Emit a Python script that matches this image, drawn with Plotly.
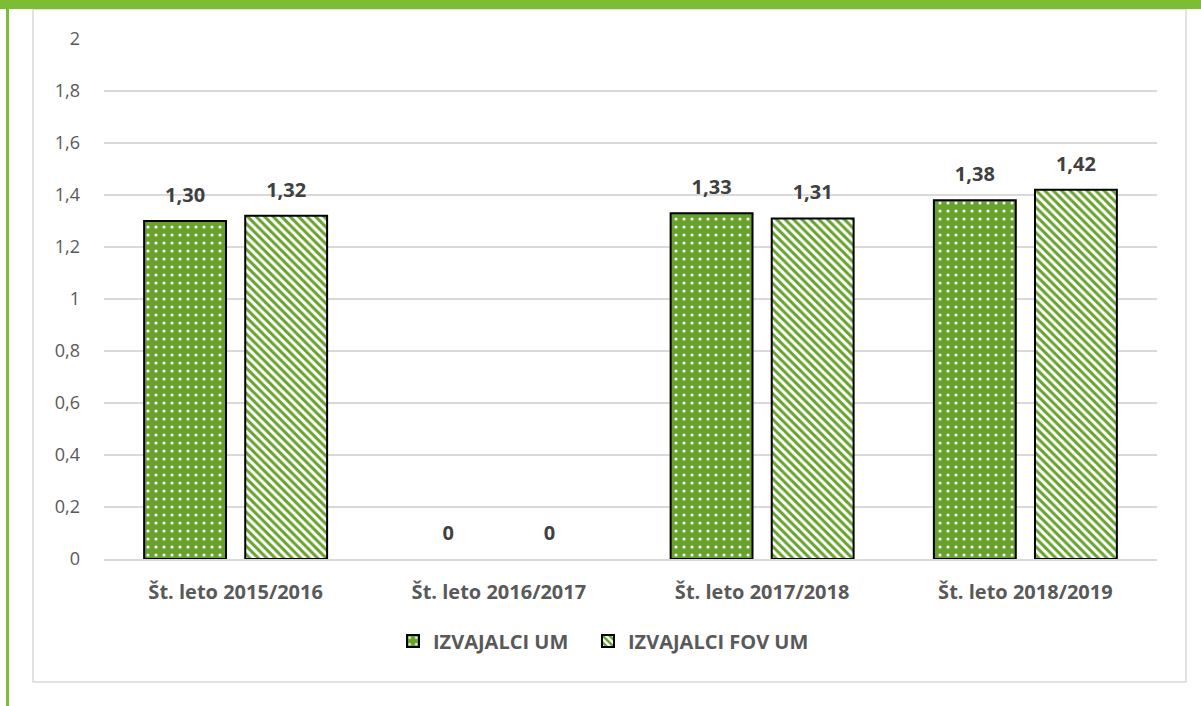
import plotly.graph_objects as go

categories = ["Št. leto 2015/2016", "Št. leto 2016/2017", "Št. leto 2017/2018", "Št. leto 2018/2019"]
izvajalci_um = [1.30, 0, 1.33, 1.38]
izvajalci_fov_um = [1.32, 0, 1.31, 1.42]
labels_um = ["1,30", "0", "1,33", "1,38"]
labels_fov_um = ["1,32", "0", "1,31", "1,42"]
y_ticks = [0, 0.2, 0.4, 0.6, 0.8, 1, 1.2, 1.4, 1.6, 1.8, 2]
y_tick_labels = ["0", "0,2", "0,4", "0,6", "0,8", "1", "1,2", "1,4", "1,6", "1,8", "2"]

GREEN = "#66a22c"
BAND = "#7dbd33"
FONT = "Open Sans"

W, H = 1201, 706
L, R, T, B = 104, 1157, 39, 559


def outline(values):
    return [0 if v == 0 else 2 for v in values]


def label_text(labels):
    return ["<span style='font-size:20px'>" + t + "</span><br> " for t in labels]


fig = go.Figure()
fig.add_trace(go.Bar(
    name="IZVAJALCI UM", x=categories, y=izvajalci_um, legend="legend",
    text=label_text(labels_um), textposition="outside", constraintext="none",
    textfont=dict(family=FONT, size=10, color="#404040", weight="bold"),
    cliponaxis=False,
    marker=dict(color=GREEN, line=dict(color="black", width=outline(izvajalci_um)),
                pattern=dict(shape=".", fgcolor="white", bgcolor=GREEN,
                             size=8, solidity=0.12, fillmode="replace")),
))
fig.add_trace(go.Bar(
    name="IZVAJALCI FOV UM", x=categories, y=izvajalci_fov_um, legend="legend2",
    text=label_text(labels_fov_um), textposition="outside", constraintext="none",
    textfont=dict(family=FONT, size=10, color="#404040", weight="bold"),
    cliponaxis=False,
    marker=dict(color="white", line=dict(color="black", width=outline(izvajalci_fov_um)),
                pattern=dict(shape="\\", fgcolor=GREEN, bgcolor="white",
                             size=6, solidity=0.5, fillmode="replace")),
))


def px(x):
    return (x - L) / (R - L)


def py(y):
    return (B - y) / (B - T)


shapes = [
    dict(type="rect", xref="paper", yref="paper", x0=px(33), x1=px(1186), y0=py(682), y1=py(9),
         line=dict(color="#d9d9d9", width=1.5), fillcolor="rgba(0,0,0,0)", layer="below"),
    dict(type="rect", xref="paper", yref="paper", x0=px(0), x1=px(W), y0=py(9), y1=py(0),
         line=dict(width=0), fillcolor=BAND),
    dict(type="rect", xref="paper", yref="paper", x0=px(6), x1=px(9), y0=py(H), y1=py(9),
         line=dict(width=0), fillcolor=BAND),
]

legend_style = dict(orientation="h", xanchor="left", y=py(641), yanchor="middle",
                    font=dict(family=FONT, size=20, color="#595959", weight="bold"),
                    itemwidth=30, bgcolor="rgba(0,0,0,0)")

fig.update_layout(
    width=W, height=H,
    margin=dict(l=L, r=W - R, t=T, b=H - B, pad=0),
    paper_bgcolor="white", plot_bgcolor="white",
    barmode="group", bargap=0.232, bargroupgap=0.19,
    separators=",.",
    font=dict(family=FONT, color="#595959", size=18),
    showlegend=True,
    legend=dict(x=px(393), **legend_style),
    legend2=dict(x=px(588), **legend_style),
    shapes=shapes,
    xaxis=dict(showline=True, linecolor="#d9d9d9", linewidth=1.5, ticks="",
               ticklabelstandoff=14,
               tickfont=dict(family=FONT, size=20, color="#595959", weight="bold")),
    yaxis=dict(range=[0, 2], tickvals=y_ticks, ticktext=y_tick_labels,
               showgrid=True, gridcolor="#d9d9d9", gridwidth=1.5, zeroline=False,
               showline=False, ticks="", ticklabelstandoff=23,
               tickfont=dict(family=FONT, size=18, color="#595959")),
)

fig.write_html("out.html", post_script="document.body.style.margin='0';",
               config={"displayModeBar": False})
